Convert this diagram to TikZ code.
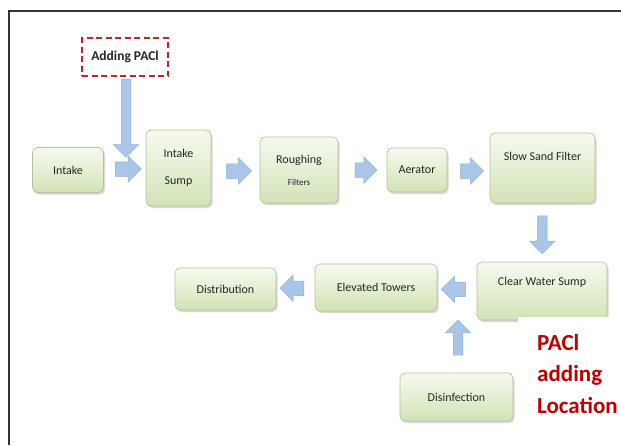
\documentclass[tikz,border=0pt]{standalone}
\usepackage{fontspec}
\setmainfont{Carlito}
\usetikzlibrary{shapes.arrows,shadows,calc}
\definecolor{boxborder}{HTML}{B3C19C}
\definecolor{boxtop}{HTML}{F6FAEF}
\definecolor{boxbot}{HTML}{D2E3B6}
\definecolor{arrfill}{HTML}{A9C6E8}
\definecolor{arrdraw}{HTML}{8BAFD8}
\definecolor{pacred}{HTML}{C0272D}
\definecolor{labred}{HTML}{C00000}
\tikzset{
  boxtext/.style={text=black!85, font=\fontsize{12}{15}\selectfont},
  box/.style={draw=boxborder, line width=0.6pt, rounded corners=5pt,
    top color=boxtop, bottom color=boxbot, align=center, boxtext, inner sep=2pt,
    drop shadow={shadow xshift=1.5pt, shadow yshift=-2pt, opacity=0.3}},
  blockarrow/.style={single arrow, fill=arrfill, draw=arrdraw, line width=0.5pt,
    inner xsep=0pt, inner ysep=7pt, single arrow head extend=6pt,
    single arrow tip angle=90},
  vblockarrow/.style={blockarrow, inner ysep=4.5pt, single arrow head extend=8pt},
}
\begin{document}
\begin{tikzpicture}[x=1pt,y=-1pt]
\useasboundingbox (0,0) rectangle (621,445);
\fill[white] (0,0) rectangle (621,445);
\draw[line width=1.2pt, black!80] (9,445) -- (9,11) -- (621,11);

% top row
\node[draw=pacred, dash pattern=on 6pt off 3.5pt, line width=1.8pt,
  minimum width=86pt, minimum height=38pt, text=black!85,
  font=\bfseries\fontsize{13.5}{16}\selectfont]
  (pacl) at (125,57) {Adding PACl};
\node[box, minimum width=71pt, minimum height=45pt] (intake) at (68,170) {Intake};
\node[box, minimum width=65pt, minimum height=76pt] (sump) at (178.5,168) {Intake\\[12pt]Sump};
\node[box, minimum width=78pt, minimum height=66pt] (rough) at (299,170)
  {Roughing\\[7pt]{\fontsize{9}{10}\selectfont Filters}};
\node[box, minimum width=60pt, minimum height=44pt] (aer) at (417,170) {Aerator};
\node[box, minimum width=105pt, minimum height=70pt] (ssf) at (542.5,168) {};
\node[boxtext] (ssft) at ($(ssf.north)+(0,24)$) {Slow Sand Filter};

% bottom row
\node[box, minimum width=130pt, minimum height=58pt] (cws) at (542,291) {};
\node[boxtext] (cwst) at ($(cws.north)+(0,21)$) {Clear Water Sump};
\node[box, minimum width=122pt, minimum height=47pt] (tow) at (376,287.5) {Elevated Towers};
\node[box, minimum width=101pt, minimum height=42pt] (dist) at (225.5,289) {Distribution};
\node[box, minimum width=113pt, minimum height=48pt] (dis) at (456.5,397) {Disinfection};

% block arrows
\node[vblockarrow, minimum height=78pt, rotate=-90] (a0) at (126,116) {};
\node[blockarrow, minimum height=26pt] (a1) at ($(intake.east)!0.5!(sump.west)$) {};
\node[blockarrow, minimum height=25pt] (a2) at ($(sump.east)!0.5!(rough.west)+(0,2)$) {};
\node[blockarrow, minimum height=22pt] (a3) at ($(rough.east)!0.5!(aer.west)$) {};
\node[blockarrow, minimum height=23pt] (a4) at ($(aer.east)!0.5!(ssf.west)+(0,2)$) {};
\node[vblockarrow, minimum height=38pt, rotate=-90] (a5) at ($(ssf.south)!0.5!(cws.north)$) {};
\node[blockarrow, minimum height=24pt, rotate=180] (a6) at ($(tow.east)!0.5!(cws.west)$) {};
\node[blockarrow, minimum height=24pt, rotate=180] (a7) at ($(dist.east)!0.5!(tow.west)$) {};
\node[vblockarrow, minimum height=35pt, rotate=90] (a8) at (458,340) {};

% overlay and label
\fill[white] (518,317) rectangle (621,445);
\node[anchor=north west, align=left, text=labred, inner sep=0pt,
  font=\bfseries\fontsize{23}{31.5}\selectfont] (lab) at (537,334) {PACl\\adding\\Location};
\end{tikzpicture}
\end{document}
